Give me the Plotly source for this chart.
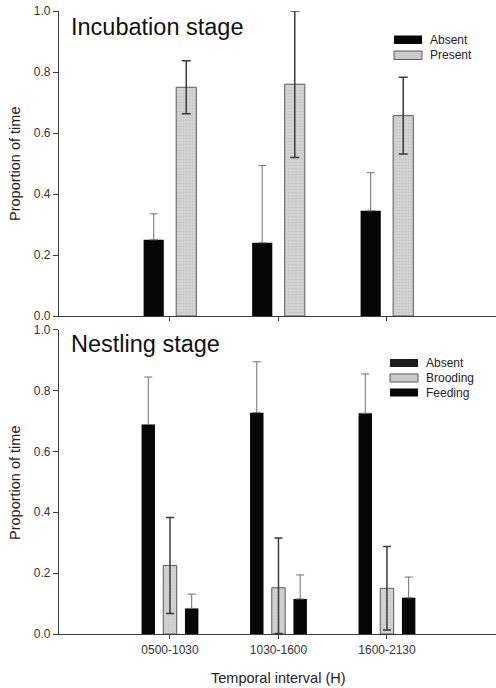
import plotly.graph_objects as go

W, H = 496, 688

# ---------------- data ----------------
intervals = ["0500-1030", "1030-1600", "1600-2130"]

inc_absent = [0.25, 0.24, 0.345]
inc_absent_err = [0.085, 0.253, 0.125]
inc_present = [0.75, 0.76, 0.657]
inc_present_err = [0.087, 0.24, 0.126]

nest_absent = [0.688, 0.727, 0.725]
nest_absent_err = [0.156, 0.167, 0.129]
nest_brooding = [0.225, 0.152, 0.150]
nest_brooding_err_up = [0.158, 0.163, 0.137]
nest_brooding_err_down = [0.158, 0.150, 0.137]
nest_feeding = [0.084, 0.115, 0.119]
nest_feeding_err = [0.047, 0.079, 0.068]

y_ticks = [0.0, 0.2, 0.4, 0.6, 0.8, 1.0]

FONT = "Liberation Sans, Arial, sans-serif"
BLACK = "#060606"
GRAY = "#cbcbcb"


def px(x):
    return x / W


def py(y):
    return 1 - y / H


def gray_marker():
    return dict(color=GRAY, line=dict(color="#5a5a5a", width=1),
                pattern=dict(shape=".", fgcolor="#b4b4b4", bgcolor="#d2d2d2",
                             size=3, solidity=0.25))


def one_sided(err, color="#707070"):
    return dict(type="data", symmetric=False, array=err, arrayminus=[0] * len(err),
                color=color, thickness=1, width=4)


fig = go.Figure()

# top panel
fig.add_trace(go.Bar(x=intervals, y=inc_absent, name="Absent", xaxis="x", yaxis="y",
                     marker=dict(color=BLACK, line=dict(width=0)),
                     error_y=one_sided(inc_absent_err), cliponaxis=False, showlegend=False))
fig.add_trace(go.Bar(x=intervals, y=inc_present, name="Present", xaxis="x", yaxis="y",
                     marker=gray_marker(),
                     error_y=dict(type="data", array=inc_present_err, color="#3a3a3a",
                                  thickness=1.5, width=4.5),
                     cliponaxis=False, showlegend=False))

# bottom panel
fig.add_trace(go.Bar(x=intervals, y=nest_absent, name="Absent", xaxis="x2", yaxis="y2",
                     marker=dict(color=BLACK, line=dict(width=0)),
                     error_y=one_sided(nest_absent_err), cliponaxis=False, showlegend=False))
fig.add_trace(go.Bar(x=intervals, y=nest_brooding, name="Brooding", xaxis="x2", yaxis="y2",
                     marker=gray_marker(),
                     error_y=dict(type="data", symmetric=False, array=nest_brooding_err_up,
                                  arrayminus=nest_brooding_err_down, color="#3a3a3a",
                                  thickness=1.5, width=4),
                     cliponaxis=False, showlegend=False))
fig.add_trace(go.Bar(x=intervals, y=nest_feeding, name="Feeding", xaxis="x2", yaxis="y2",
                     marker=dict(color=BLACK, line=dict(width=0)),
                     error_y=one_sided(nest_feeding_err), cliponaxis=False, showlegend=False))

x_dom = [px(59), 1.0]
x_range = [-1.023, 3.005]

xcommon = dict(type="category", range=x_range, showline=True, linecolor="#3c3c3c",
               linewidth=1.2, ticks="outside", ticklen=4, tickcolor="#3c3c3c",
               showgrid=False, zeroline=False, domain=x_dom, automargin=False)
ycommon = dict(range=[0, 1.0], tickvals=y_ticks, ticktext=[f"{v:.1f}" for v in y_ticks],
               showline=True, linecolor="#3c3c3c", linewidth=1.2, ticks="outside",
               ticklen=5, tickcolor="#3c3c3c", showgrid=False, zeroline=False,
               automargin=False,
               tickfont=dict(family=FONT, size=12, color="#333"))

fig.update_layout(
    width=W, height=H, autosize=False,
    margin=dict(l=0, r=0, t=0, b=0, pad=0),
    paper_bgcolor="white", plot_bgcolor="white",
    barmode="group", bargap=0.4, bargroupgap=0.38,
    font=dict(family=FONT, color="#222"),
    hovermode=False,
    xaxis=dict(**xcommon, anchor="y", showticklabels=False),
    yaxis=dict(**ycommon, anchor="x", domain=[py(316), py(11)]),
    xaxis2=dict(**xcommon, anchor="y2", showticklabels=True,
                tickfont=dict(family=FONT, size=12, color="#333")),
    yaxis2=dict(**ycommon, anchor="x2", domain=[py(634), py(329.5)]),
)

ann = []
shapes = []

# panel titles
ann.append(dict(x=px(69), y=py(27), xref="paper", yref="paper", xanchor="left", yanchor="middle",
                text="Incubation stage", showarrow=False,
                font=dict(family=FONT, size=23.5, color="#111")))
ann.append(dict(x=px(69), y=py(344), xref="paper", yref="paper", xanchor="left", yanchor="middle",
                text="Nestling stage", showarrow=False,
                font=dict(family=FONT, size=23.5, color="#111")))

# axis titles
for yc in (164, 483):
    ann.append(dict(x=px(15), y=py(yc), xref="paper", yref="paper", xanchor="center",
                    yanchor="middle", text="Proportion of time", textangle=-90, showarrow=False,
                    font=dict(family=FONT, size=14.5, color="#222")))
ann.append(dict(x=px(278), y=py(678), xref="paper", yref="paper", xanchor="center",
                yanchor="middle", text="Temporal interval (H)", showarrow=False,
                font=dict(family=FONT, size=14.5, color="#222")))


def legend_item(x0, y0, x1, y1, text, kind):
    if kind == "gray":
        shapes.append(dict(type="rect", xref="paper", yref="paper", x0=px(x0), x1=px(x1),
                           y0=py(y1), y1=py(y0), fillcolor=GRAY,
                           line=dict(color="#5a5a5a", width=1)))
    else:
        shapes.append(dict(type="rect", xref="paper", yref="paper", x0=px(x0), x1=px(x1),
                           y0=py(y1), y1=py(y0), fillcolor=kind, line=dict(width=0)))
    ann.append(dict(x=px(x1 + 6), y=py((y0 + y1) / 2), xref="paper", yref="paper",
                    xanchor="left", yanchor="middle", text=text, showarrow=False,
                    font=dict(family=FONT, size=12, color="#222")))


legend_item(394, 35.5, 422, 44, "Absent", BLACK)
legend_item(394, 51, 422, 59.5, "Present", "gray")

legend_item(390, 359, 418, 367, "Absent", "#1c1c1c")
legend_item(390, 374, 418, 382, "Brooding", "gray")
legend_item(390, 388.5, 418, 396.5, "Feeding", BLACK)

fig.update_layout(annotations=ann, shapes=shapes)

fig.write_html("out.html",
               config={"displayModeBar": False, "staticPlot": True},
               post_script="document.body.style.margin='0';document.body.style.padding='0';"
                           "document.body.style.overflow='hidden';")
